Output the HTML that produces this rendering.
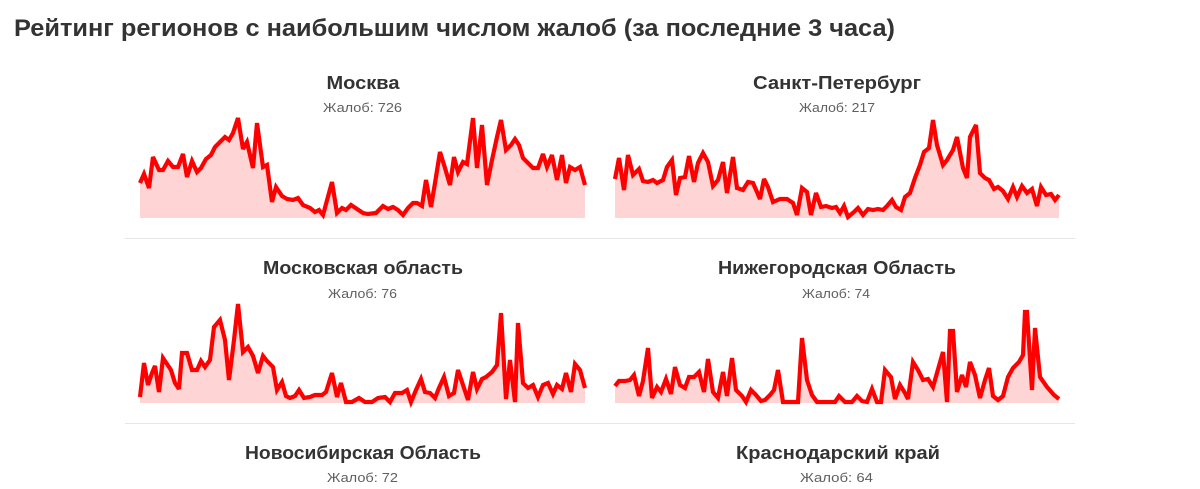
<!DOCTYPE html>
<html>
<head>
<meta charset="utf-8">
<style>
html,body{margin:0;padding:0;background:#fff;}
svg{display:block;}
.t{font-family:"Liberation Sans","Noto Sans CJK SC",sans-serif;font-weight:bold;fill:#333;}
.h{font-family:"Liberation Sans","Noto Sans CJK SC",sans-serif;font-weight:bold;fill:#333;font-size:18px;}
.s{font-family:"Liberation Sans","Noto Sans CJK SC",sans-serif;fill:#5f5f5f;font-size:13px;}
.f{fill:#ffd4d4;stroke:none;}
.l{fill:none;stroke:#ff0000;stroke-width:4.2;stroke-linejoin:miter;stroke-miterlimit:3;}
</style>
</head>
<body>
<svg width="1200" height="489" viewBox="0 0 1200 489" xmlns="http://www.w3.org/2000/svg">
<text class="t" x="14" y="36" font-size="24" textLength="881" lengthAdjust="spacingAndGlyphs">Рейтинг регионов с наибольшим числом жалоб (за последние 3 часа)</text>

<!-- Row 1 -->
<text class="h" x="363" y="89" text-anchor="middle" textLength="73" lengthAdjust="spacingAndGlyphs">Москва</text>
<text class="s" x="362.5" y="112" text-anchor="middle" textLength="79" lengthAdjust="spacingAndGlyphs">Жалоб: 726</text>
<text class="h" x="837" y="89" text-anchor="middle" textLength="168" lengthAdjust="spacingAndGlyphs">Санкт-Петербург</text>
<text class="s" x="837" y="112" text-anchor="middle" textLength="76" lengthAdjust="spacingAndGlyphs">Жалоб: 217</text>

<polygon class="f" points="140,183 144,174 149,188 153,157 159,170 163,170 168,161 173,167 178,167 183,154 187,177 192,161 197,172 201,168 206,159 211,155 215,147 220,142 225,137 229,140 233,133 238,118 243,149 247,142 253,168 257,123 263,167 267,165 272,202 276,187 282,196 287,199 293,200 298,198 303,205 310,208 315,212 319,210 323,215 332,182 337,213 342,208 346,210 351,205 357,209 363,213 368,214 376,213 383,206 388,209 393,207 398,210 403,215 408,208 413,203 417,203 422,206 426,180 431,207 435,183 440,152 445,168 450,185 454,157 458,172 463,162 467,164 473,118 477,168 482,125 487,185 492,160 497,137 501,120 506,150 511,145 515,139 519,145 523,158 528,163 533,168 538,168 543,154 547,167 552,155 557,180 562,155 566,183 570,167 575,170 580,167 585,185 585,218 140,218"/>
<polyline class="l" points="140,183 144,174 149,188 153,157 159,170 163,170 168,161 173,167 178,167 183,154 187,177 192,161 197,172 201,168 206,159 211,155 215,147 220,142 225,137 229,140 233,133 238,118 243,149 247,142 253,168 257,123 263,167 267,165 272,202 276,187 282,196 287,199 293,200 298,198 303,205 310,208 315,212 319,210 323,215 332,182 337,213 342,208 346,210 351,205 357,209 363,213 368,214 376,213 383,206 388,209 393,207 398,210 403,215 408,208 413,203 417,203 422,206 426,180 431,207 435,183 440,152 445,168 450,185 454,157 458,172 463,162 467,164 473,118 477,168 482,125 487,185 492,160 497,137 501,120 506,150 511,145 515,139 519,145 523,158 528,163 533,168 538,168 543,154 547,167 552,155 557,180 562,155 566,183 570,167 575,170 580,167 585,185"/>

<polygon class="f" points="615,179 619,158 624,190 628,155 633,175 639,169 643,181 648,182 653,180 657,183 663,180 667,167 672,160 676,195 680,178 685,177 689,156 694,182 698,163 703,153 708,162 713,186 718,180 723,162 727,193 733,157 737,188 743,190 748,182 753,183 757,192 760,199 764,179 768,187 773,202 780,199 787,199 793,203 797,215 802,188 807,192 811,215 816,193 821,207 826,206 832,208 836,207 840,213 844,206 848,217 854,212 858,208 863,215 868,209 873,210 878,209 883,210 887,206 892,200 896,207 901,210 905,197 910,193 915,178 920,165 924,152 929,148 933,120 937,145 943,165 947,160 953,150 957,137 963,168 967,178 970,137 976,125 980,173 985,178 989,180 994,189 998,187 1003,191 1008,199 1013,187 1017,197 1022,186 1027,193 1032,189 1037,206 1041,187 1046,195 1051,194 1055,200 1059,195 1059,218 615,218"/>
<polyline class="l" points="615,179 619,158 624,190 628,155 633,175 639,169 643,181 648,182 653,180 657,183 663,180 667,167 672,160 676,195 680,178 685,177 689,156 694,182 698,163 703,153 708,162 713,186 718,180 723,162 727,193 733,157 737,188 743,190 748,182 753,183 757,192 760,199 764,179 768,187 773,202 780,199 787,199 793,203 797,215 802,188 807,192 811,215 816,193 821,207 826,206 832,208 836,207 840,213 844,206 848,217 854,212 858,208 863,215 868,209 873,210 878,209 883,210 887,206 892,200 896,207 901,210 905,197 910,193 915,178 920,165 924,152 929,148 933,120 937,145 943,165 947,160 953,150 957,137 963,168 967,178 970,137 976,125 980,173 985,178 989,180 994,189 998,187 1003,191 1008,199 1013,187 1017,197 1022,186 1027,193 1032,189 1037,206 1041,187 1046,195 1051,194 1055,200 1059,195"/>

<line x1="125" y1="238.5" x2="1075" y2="238.5" stroke="#e6e6e6" stroke-width="1"/>

<!-- Row 2 -->
<text class="h" x="363" y="274" text-anchor="middle" textLength="200" lengthAdjust="spacingAndGlyphs">Московская область</text>
<text class="s" x="362.5" y="298" text-anchor="middle" textLength="69" lengthAdjust="spacingAndGlyphs">Жалоб: 76</text>
<text class="h" x="837" y="274" text-anchor="middle" textLength="238" lengthAdjust="spacingAndGlyphs">Нижегородская Область</text>
<text class="s" x="836" y="298" text-anchor="middle" textLength="68" lengthAdjust="spacingAndGlyphs">Жалоб: 74</text>

<polygon class="f" points="140,397 144,363 148,385 152,373 155,366 159,392 163,358 167,364 171,370 175,383 179,389 182,353 187,353 192,370 197,370 201,361 205,367 210,360 214,327 220,320 225,340 229,380 234,340 238,304 243,352 248,347 253,356 258,373 263,356 267,361 273,367 277,390 282,382 286,396 290,398 295,396 299,390 304,398 310,397 315,395 322,395 326,392 332,373 337,397 341,383 346,402 352,402 359,398 365,402 372,402 378,398 385,397 390,402 395,393 402,393 407,390 411,402 416,390 421,379 425,392 430,393 435,398 439,388 444,377 449,396 454,393 458,370 463,385 468,400 473,372 477,389 482,379 486,377 492,372 497,365 501,313 506,399 510,360 515,402 518,323 523,383 528,388 533,385 538,397 543,385 548,383 553,394 557,385 562,389 566,373 571,392 575,364 580,370 585,388 585,403 140,403"/>
<polyline class="l" points="140,397 144,363 148,385 152,373 155,366 159,392 163,358 167,364 171,370 175,383 179,389 182,353 187,353 192,370 197,370 201,361 205,367 210,360 214,327 220,320 225,340 229,380 234,340 238,304 243,352 248,347 253,356 258,373 263,356 267,361 273,367 277,390 282,382 286,396 290,398 295,396 299,390 304,398 310,397 315,395 322,395 326,392 332,373 337,397 341,383 346,402 352,402 359,398 365,402 372,402 378,398 385,397 390,402 395,393 402,393 407,390 411,402 416,390 421,379 425,392 430,393 435,398 439,388 444,377 449,396 454,393 458,370 463,385 468,400 473,372 477,389 482,379 486,377 492,372 497,365 501,313 506,399 510,360 515,402 518,323 523,383 528,388 533,385 538,397 543,385 548,383 553,394 557,385 562,389 566,373 571,392 575,364 580,370 585,388"/>

<polygon class="f" points="615,386 619,381 625,381 630,380 634,375 639,396 643,381 648,348 652,398 657,387 661,392 666,379 671,394 675,367 680,385 685,388 689,377 694,377 699,372 704,392 708,359 713,392 718,398 723,372 727,396 732,358 736,390 742,396 746,402 751,390 756,395 761,401 765,400 770,395 774,390 778,370 783,402 788,402 798,402 802,338 807,380 812,395 817,402 827,402 835,402 839,396 845,402 852,402 857,396 862,401 867,402 872,389 877,402 881,402 885,370 891,377 895,399 900,385 905,393 908,399 913,362 918,370 923,380 928,379 933,387 937,373 943,352 947,402 950,331 953,331 957,392 962,375 966,387 970,362 975,375 980,398 985,380 989,368 993,396 998,400 1003,396 1008,377 1013,368 1019,362 1023,355 1025,312 1027,312 1032,390 1035,328 1040,377 1047,387 1054,395 1059,399 1059,403 615,403"/>
<polyline class="l" points="615,386 619,381 625,381 630,380 634,375 639,396 643,381 648,348 652,398 657,387 661,392 666,379 671,394 675,367 680,385 685,388 689,377 694,377 699,372 704,392 708,359 713,392 718,398 723,372 727,396 732,358 736,390 742,396 746,402 751,390 756,395 761,401 765,400 770,395 774,390 778,370 783,402 788,402 798,402 802,338 807,380 812,395 817,402 827,402 835,402 839,396 845,402 852,402 857,396 862,401 867,402 872,389 877,402 881,402 885,370 891,377 895,399 900,385 905,393 908,399 913,362 918,370 923,380 928,379 933,387 937,373 943,352 947,402 950,331 953,331 957,392 962,375 966,387 970,362 975,375 980,398 985,380 989,368 993,396 998,400 1003,396 1008,377 1013,368 1019,362 1023,355 1025,312 1027,312 1032,390 1035,328 1040,377 1047,387 1054,395 1059,399"/>

<line x1="125" y1="423.5" x2="1075" y2="423.5" stroke="#e6e6e6" stroke-width="1"/>

<!-- Row 3 -->
<text class="h" x="363" y="459" text-anchor="middle" textLength="236" lengthAdjust="spacingAndGlyphs">Новосибирская Область</text>
<text class="s" x="362.5" y="482" text-anchor="middle" textLength="71" lengthAdjust="spacingAndGlyphs">Жалоб: 72</text>
<text class="h" x="838" y="459" text-anchor="middle" textLength="204" lengthAdjust="spacingAndGlyphs">Краснодарский край</text>
<text class="s" x="836.5" y="482" text-anchor="middle" textLength="73" lengthAdjust="spacingAndGlyphs">Жалоб: 64</text>
</svg>
</body>
</html>
